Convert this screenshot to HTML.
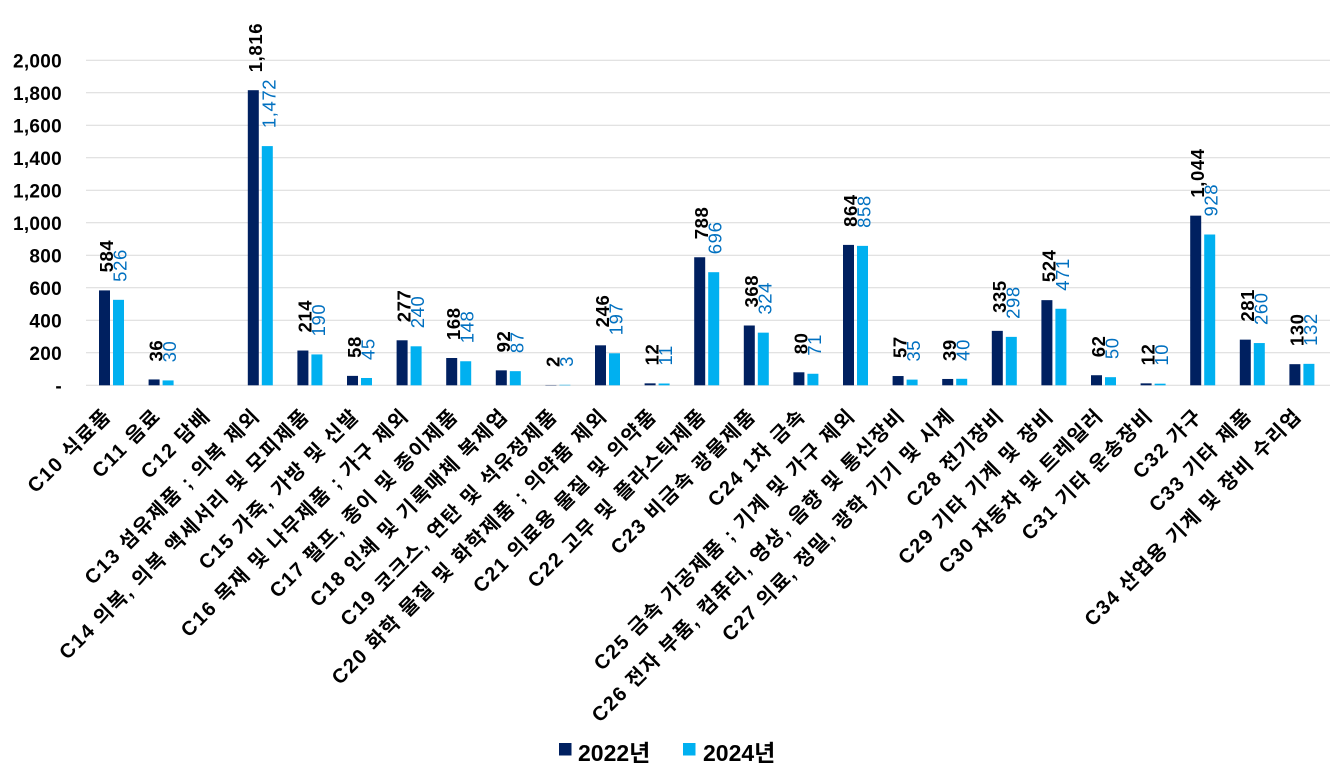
<!DOCTYPE html>
<html><head><meta charset="utf-8"><style>
body{margin:0;background:#fff}
svg{display:block;font-family:"Liberation Sans","Noto Sans CJK KR",sans-serif}
</style></head><body>
<svg id="c" width="1342" height="775"></svg>
<script>
const categories=["C10 식료품","C11 음료","C12 담배","C13 섬유제품 ; 의복 제외","C14 의복, 의복 액세서리 및 모피제품","C15 가죽, 가방 및 신발","C16 목재 및 나무제품 ; 가구 제외","C17 펄프, 종이 및 종이제품","C18 인쇄 및 기록매체 복제업","C19 코크스, 연탄 및 석유정제품","C20 화학 물질 및 화학제품 ; 의약품 제외","C21 의료용 물질 및 의약품","C22 고무 및 플라스틱제품","C23 비금속 광물제품","C24 1차 금속","C25 금속 가공제품 ; 기계 및 가구 제외","C26 전자 부품, 컴퓨터, 영상, 음향 및 통신장비","C27 의료, 정밀, 광학 기기 및 시계","C28 전기장비","C29 기타 기계 및 장비","C30 자동차 및 트레일러","C31 기타 운송장비","C32 가구","C33 기타 제품","C34 산업용 기계 및 장비 수리업"];
const values2022=[584,36,null,1816,214,58,277,168,92,2,246,12,788,368,80,864,57,39,335,524,62,12,1044,281,130];
const values2024=[526,30,null,1472,190,45,240,148,87,3,197,11,696,324,71,858,35,40,298,471,50,10,928,260,132];
const yTicks=[0,200,400,600,800,1000,1200,1400,1600,1800,2000];
const seriesNames=["2022년","2024년"];

const svg=document.getElementById('c');
const NS='http://www.w3.org/2000/svg';
const x0=86,x1=1330,y0=385.3,yTop=60.3,yMax=2000,step=49.6,first=111.5;
const y=v=>y0-(v/yMax)*(y0-yTop);
const cx=i=>first+i*step;
function el(t,a,txt){const e=document.createElementNS(NS,t);for(const k in a)e.setAttribute(k,a[k]);if(txt!=null)e.textContent=txt;svg.appendChild(e);return e;}
const fmt=v=>v.toLocaleString('en-US');

yTicks.forEach(t=>{
  const g=el('line',{x1:x0,x2:x1,y1:y(t),y2:y(t),stroke:'#d9d9d9','stroke-width':1});
  
  
  const l=el('text',{x:62,y:y(t)+7,'text-anchor':'end','font-size':19,'font-weight':'bold','letter-spacing':0.3,fill:'#000'},t===0?'-':fmt(t));
  
  
});

categories.forEach((c,i)=>{
  const c0=cx(i);
  [[values2022[i],'#002060',-12.5,'#000','bold'],[values2024[i],'#00b0f0',1.5,'#0070c0','normal']].forEach((s,k)=>{
    const v=s[0]; if(v==null)return;
    const r=el('rect',{x:c0+s[2],y:y(v),width:11,height:y0-y(v),fill:s[1]});
    
    
    const lx=c0+s[2]+5.5+(k?1.5:2), ly=y(v)-18;
    const t=el('text',{x:lx,y:ly,'text-anchor':'start','font-size':18.5,'font-weight':s[4],'letter-spacing':0.6,fill:s[3],transform:`rotate(-90 ${lx} ${ly})`,'dominant-baseline':'central'},fmt(v));
    
    
  });
  const ax=c0+1,ay=417;
  const t=el('text',{x:ax,y:ay,'text-anchor':'end','font-size':20,'font-weight':'bold','letter-spacing':1.6,fill:'#000',transform:`rotate(-45 ${ax} ${ay})`},c);
  
  
});

[[559,'#002060',578],[683,'#00b0f0',703]].forEach((L,k)=>{
  const r=el('rect',{x:L[0],y:743,width:12.5,height:12.5,fill:L[1]});
  
  
  const t=el('text',{x:L[2],y:761,'font-size':23,'font-weight':'bold',fill:'#000'},seriesNames[k]);
  
  
});
</script>
</body></html>
